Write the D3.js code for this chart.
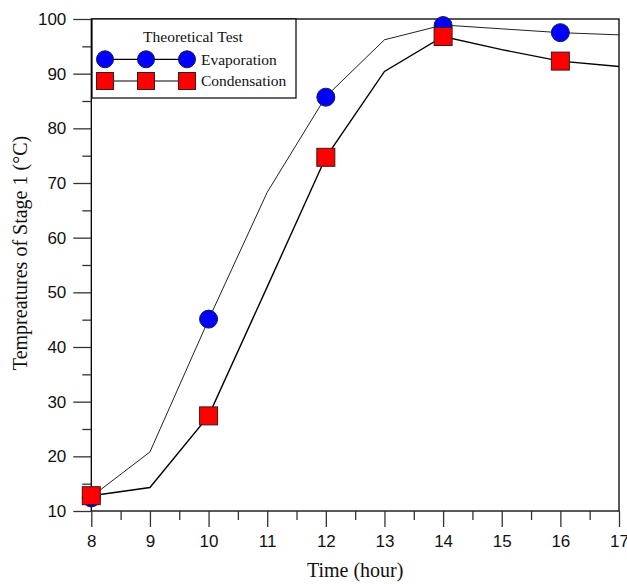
<!DOCTYPE html>
<html>
<head>
<meta charset="utf-8">
<script src="https://cdn.jsdelivr.net/npm/d3@7"></script>
<style>
  html, body { margin: 0; padding: 0; background: #fff; }
  svg { display: block; }
</style>
</head>
<body>
<svg id="chart" width="627" height="584"></svg>
<script>
// Hourly theoretical curves (lines)
const hours = [8, 9, 10, 11, 12, 13, 14, 15, 16, 17];
const evapCurve = [12.6, 20.8, 45.0, 68.3, 85.8, 96.2, 98.9, 98.2, 97.5, 97.1];
const condCurve = [12.8, 14.3, 27.4, 51.0, 74.7, 90.4, 96.8, 94.4, 92.3, 91.3];

// Measured test points (markers)
const testHours = [8, 10, 12, 14, 16];
const evapTest = [12.4, 45.1, 85.7, 98.8, 97.5];
const condTest = [12.8, 27.4, 74.7, 96.8, 92.3];

// Axis ticks
const xTicks = [8, 9, 10, 11, 12, 13, 14, 15, 16, 17];
const xMinor = [8.5, 9.5, 10.5, 11.5, 12.5, 13.5, 14.5, 15.5, 16.5];
const yTicks = [10, 20, 30, 40, 50, 60, 70, 80, 90, 100];
const yMinor = [15, 25, 35, 45, 55, 65, 75, 85, 95];

const legendTitle = "Theoretical Test";
const seriesNames = ["Evaporation", "Condensation"];

const svg = d3.select("#chart");
const L = 91.3, R = 619, T = 19, B = 511;

const x = d3.scaleLinear().domain([8, 17]).range([L, R]);
const y = d3.scaleLinear().domain([10, 100]).range([B, T]);

const sans = "'Liberation Sans', Arial, sans-serif";
const serif = "'Liberation Serif', 'Times New Roman', serif";

// Frame
svg.append("rect")
  .attr("x", L).attr("y", T).attr("width", R - L).attr("height", B - T)
  .attr("fill", "none").attr("stroke", "#000").attr("stroke-width", 1.3);

// X axis
const gx = svg.append("g").attr("transform", `translate(0,${B})`);
gx.call(d3.axisBottom(x).tickValues(xTicks).tickSize(16).tickPadding(8).tickFormat(d3.format("d")));
gx.append("g").call(d3.axisBottom(x).tickValues(xMinor).tickSize(9).tickFormat(""));
gx.selectAll(".domain").remove();
gx.selectAll(".tick line").attr("stroke", "#333").attr("stroke-width", 1.3);
gx.selectAll(".tick text").attr("font-family", sans).attr("font-size", 17).attr("fill", "#111");

// Y axis
const gy = svg.append("g").attr("transform", `translate(${L},0)`);
gy.call(d3.axisLeft(y).tickValues(yTicks).tickSize(18).tickPadding(7).tickFormat(d3.format("d")));
gy.append("g").call(d3.axisLeft(y).tickValues(yMinor).tickSize(9).tickFormat(""));
gy.selectAll(".domain").remove();
gy.selectAll(".tick line").attr("stroke", "#333").attr("stroke-width", 1.3);
gy.selectAll(".tick text").attr("font-family", sans).attr("font-size", 17).attr("fill", "#111");

// Axis titles
svg.append("text")
  .attr("x", (L + R) / 2).attr("y", 577)
  .attr("text-anchor", "middle")
  .attr("font-family", serif).attr("font-size", 20).attr("fill", "#111")
  .text("Time (hour)");
svg.append("text")
  .attr("transform", "translate(27,253) rotate(-90)")
  .attr("text-anchor", "middle")
  .attr("font-family", serif).attr("font-size", 20).attr("fill", "#111")
  .text("Tempreatures of Stage 1 (°C)");

// Curves
const line = d3.line().x(d => x(d[0])).y(d => y(d[1]));
svg.append("path")
  .datum(hours.map((h, i) => [h, evapCurve[i]]))
  .attr("d", line).attr("fill", "none").attr("stroke", "#222").attr("stroke-width", 1);
svg.append("path")
  .datum(hours.map((h, i) => [h, condCurve[i]]))
  .attr("d", line).attr("fill", "none").attr("stroke", "#000").attr("stroke-width", 1.4);

// Markers
const ms = 18;
svg.append("g").selectAll("circle")
  .data(testHours.map((h, i) => [h, evapTest[i]]))
  .join("circle")
  .attr("cx", d => x(d[0])).attr("cy", d => y(d[1])).attr("r", ms / 2)
  .attr("fill", "#0000ff").attr("stroke", "#1a1a40").attr("stroke-width", 1);
svg.append("g").selectAll("rect")
  .data(testHours.map((h, i) => [h, condTest[i]]))
  .join("rect")
  .attr("x", d => x(d[0]) - ms / 2).attr("y", d => y(d[1]) - ms / 2)
  .attr("width", ms).attr("height", ms)
  .attr("fill", "#ff0000").attr("stroke", "#3a1a1a").attr("stroke-width", 1);

// Legend
const lg = svg.append("g");
lg.append("rect")
  .attr("x", 92).attr("y", 19).attr("width", 204).attr("height", 79)
  .attr("fill", "#fff").attr("stroke", "#000").attr("stroke-width", 1.2);
lg.append("text")
  .attr("x", 193).attr("y", 42).attr("text-anchor", "middle")
  .attr("font-family", serif).attr("font-size", 15.5).attr("fill", "#111")
  .text(legendTitle);
const lxs = [105, 146, 187];
const rows = [59.3, 81];
seriesNames.forEach((name, k) => {
  const cy = rows[k];
  lg.append("line").attr("x1", lxs[0]).attr("x2", lxs[2]).attr("y1", cy).attr("y2", cy)
    .attr("stroke", "#000").attr("stroke-width", 1.2);
  const s = 17;
  lxs.forEach(cx => {
    if (k === 0) {
      lg.append("circle").attr("cx", cx).attr("cy", cy).attr("r", s / 2)
        .attr("fill", "#0000ff").attr("stroke", "#1a1a40").attr("stroke-width", 1);
    } else {
      lg.append("rect").attr("x", cx - s / 2).attr("y", cy - s / 2).attr("width", s).attr("height", s)
        .attr("fill", "#ff0000").attr("stroke", "#3a1a1a").attr("stroke-width", 1);
    }
  });
  lg.append("text")
    .attr("x", 201).attr("y", cy + 5.3)
    .attr("font-family", serif).attr("font-size", 15.5).attr("fill", "#111")
    .text(name);
});
</script>
</body>
</html>
